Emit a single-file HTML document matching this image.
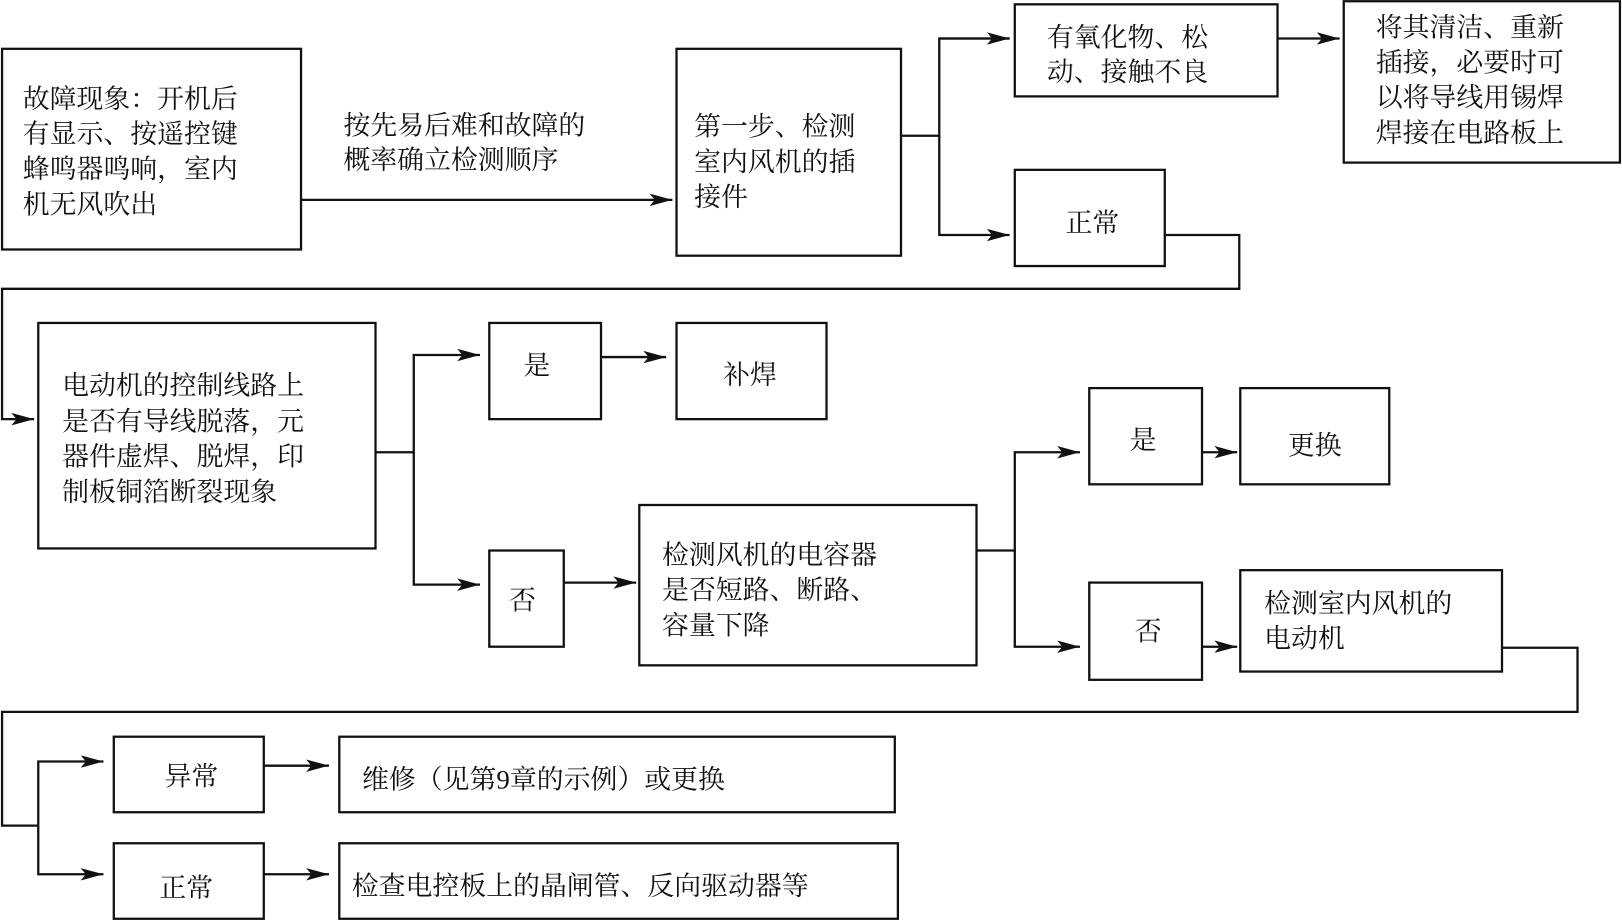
<!DOCTYPE html>
<html><head><meta charset="utf-8"><style>
html,body{margin:0;padding:0;background:#fff;}
svg{display:block}
text{font-family:"Liberation Serif","Noto Serif CJK SC","Noto Sans CJK SC",serif;font-size:26px;fill:#111;}
.b{fill:#fff;stroke:#111;stroke-width:2.2}
.l{fill:none;stroke:#111;stroke-width:2.2}
</style></head><body>
<svg width="1622" height="920" viewBox="0 0 1568 889" xmlns="http://www.w3.org/2000/svg">
<defs><marker id="a" markerUnits="userSpaceOnUse" markerWidth="24" markerHeight="12" refX="22" refY="6" orient="auto"><path d="M0,0 L22,6 L0,12 L5,6 Z" fill="#111"/></marker></defs>

<rect class="b" x="2" y="47" width="289" height="194"/>
<text x="22" y="104">故障现象：开机后</text>
<text x="22" y="138">有显示、按遥控键</text>
<text x="22" y="172">蜂鸣器鸣响，室内</text>
<text x="22" y="206">机无风吹出</text>
<text x="332" y="130">按先易后难和故障的</text>
<text x="332" y="163">概率确立检测顺序</text>
<path class="l" d="M291,193 H650" marker-end="url(#a)"/>

<rect class="b" x="654" y="47" width="217" height="200"/>
<text x="671" y="131">第一步、检测</text>
<text x="671" y="165">室内风机的插</text>
<text x="671" y="199">接件</text>
<path class="l" d="M871,131 H908 V37 H976"/>
<path class="l" d="M908,37 H976" marker-end="url(#a)"/>
<path class="l" d="M908,131 V227 H976" marker-end="url(#a)"/>

<rect class="b" x="981" y="4" width="254" height="89"/>
<text x="1012" y="45">有氧化物、松</text>
<text x="1012" y="78">动、接触不良</text>
<path class="l" d="M1235,37 H1295" marker-end="url(#a)"/>

<rect class="b" x="1299" y="1" width="267" height="156"/>
<text x="1330" y="35">将其清洁、重新</text>
<text x="1330" y="69">插接，必要时可</text>
<text x="1330" y="103">以将导线用锡焊</text>
<text x="1330" y="137">焊接在电路板上</text>

<rect class="b" x="981" y="164" width="145" height="93"/>
<text x="1056" y="224" text-anchor="middle">正常</text>
<path class="l" d="M1126,227 H1198 V279 H2 V405 H33" marker-end="url(#a)"/>

<rect class="b" x="37" y="312" width="326" height="218"/>
<text x="60" y="381">电动机的控制线路上</text>
<text x="60" y="416">是否有导线脱落，元</text>
<text x="60" y="450">器件虚焊、脱焊，印</text>
<text x="60" y="484">制板铜箔断裂现象</text>
<path class="l" d="M363,437 H400 V343 H464" marker-end="url(#a)"/>
<path class="l" d="M400,437 V565 H464" marker-end="url(#a)"/>

<rect class="b" x="473" y="312" width="108" height="93"/>
<text x="519" y="362" text-anchor="middle">是</text>
<path class="l" d="M581,345 H644" marker-end="url(#a)"/>
<rect class="b" x="654" y="312" width="145" height="93"/>
<text x="725" y="371" text-anchor="middle">补焊</text>

<rect class="b" x="473" y="532" width="72" height="93"/>
<text x="505" y="589" text-anchor="middle">否</text>
<path class="l" d="M545,563 H615" marker-end="url(#a)"/>

<rect class="b" x="618" y="488" width="326" height="155"/>
<text x="640" y="545">检测风机的电容器</text>
<text x="640" y="579">是否短路、断路、</text>
<text x="640" y="613">容量下降</text>
<path class="l" d="M944,532 H981 V437 H1044" marker-end="url(#a)"/>
<path class="l" d="M981,532 V625 H1044" marker-end="url(#a)"/>

<rect class="b" x="1053" y="375" width="109" height="93"/>
<text x="1105" y="434" text-anchor="middle">是</text>
<path class="l" d="M1162,437 H1196" marker-end="url(#a)"/>
<rect class="b" x="1199" y="375" width="144" height="93"/>
<text x="1271" y="439" text-anchor="middle">更换</text>

<rect class="b" x="1053" y="563" width="109" height="94"/>
<text x="1110" y="619" text-anchor="middle">否</text>
<path class="l" d="M1162,625 H1196" marker-end="url(#a)"/>
<rect class="b" x="1199" y="551" width="253" height="98"/>
<text x="1222" y="592">检测室内风机的</text>
<text x="1222" y="626">电动机</text>
<path class="l" d="M1452,626 H1525 V688 H2 V798 H37"/>
<path class="l" d="M37,798 V736 H100" marker-end="url(#a)"/>
<path class="l" d="M37,798 V845 H100" marker-end="url(#a)"/>

<rect class="b" x="110" y="712" width="145" height="73"/>
<text x="185" y="759" text-anchor="middle">异常</text>
<path class="l" d="M255,740 H318" marker-end="url(#a)"/>
<rect class="b" x="328" y="712" width="537" height="73"/>
<text x="350" y="762">维修（见第9章的示例）或更换</text>

<rect class="b" x="110" y="815" width="145" height="73"/>
<text x="180" y="867" text-anchor="middle">正常</text>
<path class="l" d="M255,845 H318" marker-end="url(#a)"/>
<rect class="b" x="328" y="815" width="540" height="73"/>
<text x="340" y="865">检查电控板上的晶闸管、反向驱动器等</text>
</svg>
</body></html>
